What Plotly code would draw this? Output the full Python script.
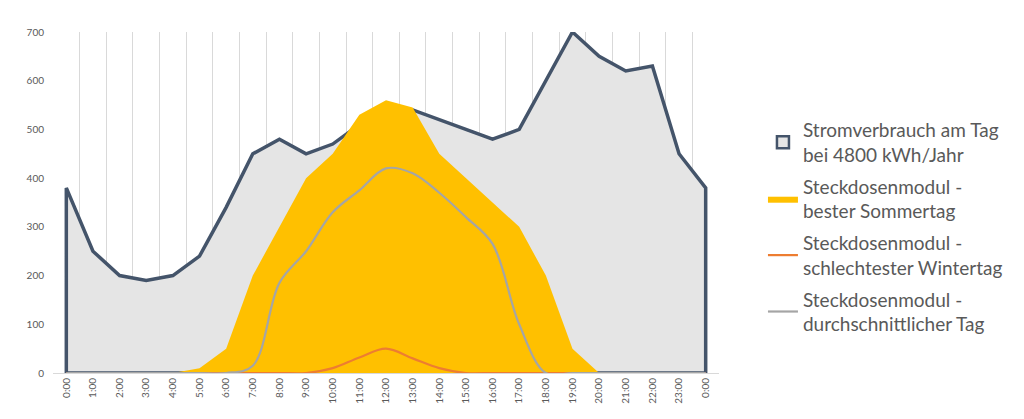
import plotly.graph_objects as go

hours = list(range(25))
hour_labels = ["0:00", "1:00", "2:00", "3:00", "4:00", "5:00", "6:00", "7:00", "8:00",
               "9:00", "10:00", "11:00", "12:00", "13:00", "14:00", "15:00", "16:00",
               "17:00", "18:00", "19:00", "20:00", "21:00", "22:00", "23:00", "0:00"]

verbrauch = [380, 250, 200, 190, 200, 240, 340, 450, 480, 450, 470, 510, 550, 540,
             520, 500, 480, 500, 600, 700, 650, 620, 630, 450, 380]
sommer = [0, 0, 0, 0, 0, 10, 50, 200, 300, 400, 450, 530, 560, 545,
          450, 400, 350, 300, 200, 50, 0, 0, 0, 0, 0]
winter = [0, 0, 0, 0, 0, 0, 0, 0, 0, 0, 10, 32, 50, 30,
          10, 0, 0, 0, 0, 0, 0, 0, 0, 0, 0]
durchschnitt = [0, 0, 0, 0, 0, 0, 0, 15, 185, 250, 330, 375, 420, 410,
                370, 320, 265, 100, 0, 0, 0, 0, 0, 0, 0]

names = ["Stromverbrauch am Tag<br>bei 4800 kWh/Jahr",
         "Steckdosenmodul -<br>bester Sommertag",
         "Steckdosenmodul -<br>schlechtester Wintertag",
         "Steckdosenmodul -<br>durchschnittlicher Tag"]

TXT = "#595959"
DARK = "#44546A"
LIGHT = "#E5E5E5"

fig = go.Figure()

# closed area outline for consumption (Excel area with border)
poly_x = [hours[0]] + hours + [hours[-1], hours[0]]
poly_y = [0] + verbrauch + [0, 0]
fig.add_trace(go.Scatter(x=poly_x, y=poly_y, mode="lines", fill="toself",
                         fillcolor=LIGHT, line=dict(color=DARK, width=3.5),
                         name=names[0], showlegend=False, legendgroup="g0",
                         hoverinfo="skip"))
# legend entry (box with border) for the consumption area
fig.add_trace(go.Bar(x=[None], y=[None], name=names[0], legendgroup="g0",
                     marker=dict(color=LIGHT, line=dict(color=DARK, width=2.5))))
fig.add_trace(go.Scatter(x=hours, y=sommer, mode="lines", fill="tozeroy",
                         fillcolor="#FFC000", line=dict(color="#FFC000", width=0),
                         name=names[1], legendgroup="g1"))
fig.add_trace(go.Scatter(x=hours, y=winter, mode="lines",
                         line=dict(color="#ED7D31", width=2.2, shape="spline", smoothing=1),
                         name=names[2], legendgroup="g2"))
fig.add_trace(go.Scatter(x=hours, y=durchschnitt, mode="lines",
                         line=dict(color="#A5A5A5", width=2.2, shape="spline", smoothing=1),
                         name=names[3], legendgroup="g3"))

fig.update_layout(
    width=1016, height=411,
    margin=dict(l=45, r=305, t=24, b=46),
    paper_bgcolor="white", plot_bgcolor="white",
    font=dict(family="Lato, 'Open Sans', sans-serif", color=TXT),
    showlegend=True,
    legend=dict(x=1.066, xanchor="left", y=0.768, yanchor="top",
                font=dict(size=19, color=TXT), bgcolor="rgba(0,0,0,0)",
                tracegroupgap=4, itemwidth=30),
    xaxis=dict(type="linear", range=[-0.5, 24.5], tickmode="array", tickvals=hours,
               ticktext=hour_labels,
               tickangle=-90, tickfont=dict(size=10, color=TXT), showgrid=False,
               zeroline=False, showline=True, linecolor="#D9D9D9", linewidth=1,
               ticks="", fixedrange=True,
               minor=dict(tickmode="linear", tick0=-0.5, dtick=1, showgrid=True,
                          gridcolor="#D9D9D9", gridwidth=1)),
    yaxis=dict(range=[0, 700], tickvals=[0, 100, 200, 300, 400, 500, 600, 700],
               showgrid=False, zeroline=False, showline=False,
               tickfont=dict(size=10, color=TXT), ticklabelstandoff=8),
)

fig.write_html("out.html")
